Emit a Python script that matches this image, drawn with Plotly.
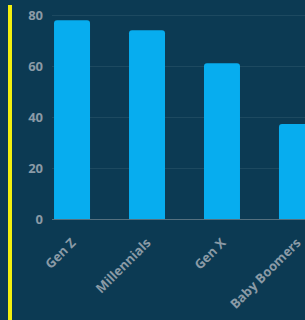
import plotly.graph_objects as go

categories = ["Gen Z", "Millennials", "Gen X", "Baby Boomers"]
values = [78.3, 74.4, 61.4, 37.4]
y_ticks = [0, 20, 40, 60, 80]

W, H = 305, 320
ml, mr, mt, mb = 52, 0, 5, 101
plot_w = W - ml - mr

fig = go.Figure(go.Bar(
    x=list(range(len(categories))), y=values,
    marker=dict(color="#07adef", line=dict(width=0)),
    width=0.48,
    hoverinfo="skip",
))

bg = "#0c3a53"
fig.update_layout(
    width=W, height=H,
    margin=dict(l=ml, r=mr, t=mt, b=mb),
    paper_bgcolor=bg, plot_bgcolor=bg,
    showlegend=False,
    barcornerradius=3,
    font=dict(family="Open Sans", color="#8a9aa6", size=12),
    shapes=[dict(type="line", xref="paper", yref="paper",
                 x0=(10 - ml) / plot_w, x1=(10 - ml) / plot_w,
                 y0=0 - mb / (H - mt - mb), y1=1.0,
                 line=dict(color="#f2ef0f", width=4))],
)
fig.update_xaxes(
    range=[-0.267, 3.107],
    tickmode="array", tickvals=list(range(len(categories))), ticktext=categories,
    tickangle=-45, showgrid=False, zeroline=False,
    showline=True, linecolor="#55707f", linewidth=1,
    tickfont=dict(family="Open Sans", size=13, color="#8a9aa6", weight="bold"),
    ticks="", ticklabelstandoff=10,
)
fig.update_yaxes(
    range=[0, 84.3], tickvals=y_ticks,
    showgrid=True, gridcolor="#1d4960", gridwidth=1, zeroline=False,
    tickfont=dict(family="Open Sans", size=13, color="#8a9aa6", weight="bold"),
    ticks="", ticklabelstandoff=8,
)
fig.write_html("out.html", config={"displayModeBar": False},
               post_script="document.body.style.margin='0';document.body.style.background='%s';" % bg)
